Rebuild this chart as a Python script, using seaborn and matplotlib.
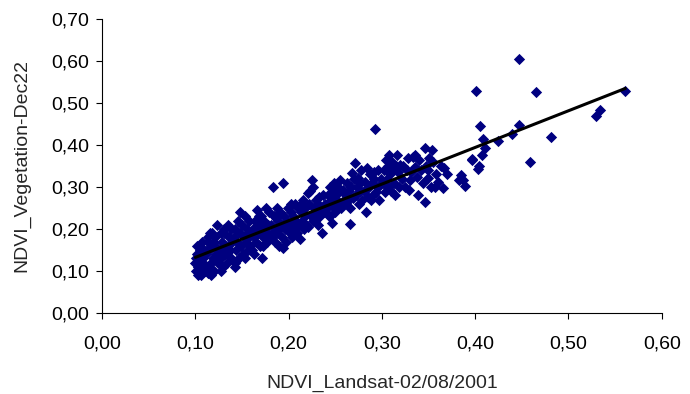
import numpy as np
import pandas as pd
import matplotlib
matplotlib.use("Agg")
import matplotlib.pyplot as plt
import seaborn as sns
from matplotlib.ticker import FuncFormatter

# --- values ---
landsat = [
    # 0.10 - 0.11
    0.100, 0.101, 0.102, 0.103, 0.104, 0.105, 0.106, 0.107, 0.108, 0.109,
    0.110, 0.101, 0.103, 0.105, 0.107, 0.109, 0.102, 0.104, 0.106, 0.108,
    # 0.11 - 0.125
    0.111, 0.112, 0.113, 0.114, 0.115, 0.116, 0.117, 0.118, 0.119, 0.120,
    0.121, 0.122, 0.123, 0.124, 0.112, 0.115, 0.118, 0.121, 0.124, 0.113,
    0.117, 0.120,
    # 0.125 - 0.14
    0.126, 0.127, 0.128, 0.129, 0.130, 0.131, 0.132, 0.133, 0.134, 0.135,
    0.136, 0.137, 0.138, 0.139, 0.128, 0.131, 0.135, 0.138,
    # 0.14 - 0.16
    0.141, 0.142, 0.143, 0.144, 0.145, 0.146, 0.147, 0.148, 0.149, 0.150,
    0.151, 0.152, 0.153, 0.154, 0.155, 0.156, 0.157, 0.158, 0.159, 0.143,
    0.148, 0.153, 0.158,
    # 0.16 - 0.18
    0.161, 0.162, 0.163, 0.164, 0.165, 0.166, 0.167, 0.168, 0.169, 0.170,
    0.171, 0.172, 0.173, 0.174, 0.175, 0.176, 0.177, 0.178, 0.179, 0.163,
    0.168, 0.173, 0.178,
    # 0.18 - 0.20
    0.181, 0.182, 0.183, 0.184, 0.185, 0.186, 0.187, 0.188, 0.189, 0.190,
    0.191, 0.192, 0.193, 0.194, 0.195, 0.196, 0.197, 0.198, 0.199, 0.183,
    0.194, 0.186, 0.192,
    # 0.20 - 0.22
    0.201, 0.202, 0.203, 0.204, 0.205, 0.206, 0.207, 0.208, 0.209, 0.210,
    0.211, 0.212, 0.213, 0.214, 0.215, 0.216, 0.217, 0.218, 0.219, 0.203,
    0.212,
    # 0.22 - 0.24
    0.221, 0.222, 0.223, 0.224, 0.225, 0.226, 0.227, 0.228, 0.229, 0.230,
    0.231, 0.232, 0.233, 0.234, 0.235, 0.236, 0.237, 0.238, 0.239, 0.221,
    0.226,
    # 0.24 - 0.26
    0.241, 0.242, 0.243, 0.244, 0.245, 0.246, 0.247, 0.248, 0.249, 0.250,
    0.251, 0.252, 0.253, 0.254, 0.255, 0.256, 0.257, 0.258, 0.259, 0.244,
    0.249,
    # 0.26 - 0.28
    0.261, 0.262, 0.263, 0.264, 0.265, 0.266, 0.267, 0.268, 0.269, 0.270,
    0.271, 0.272, 0.273, 0.274, 0.275, 0.276, 0.277, 0.278, 0.279, 0.266,
    # 0.28 - 0.30
    0.281, 0.282, 0.283, 0.284, 0.285, 0.286, 0.287, 0.288, 0.289, 0.290,
    0.291, 0.292, 0.293, 0.294, 0.295, 0.296, 0.297, 0.298, 0.299,
    # 0.30 - 0.32
    0.301, 0.302, 0.303, 0.304, 0.305, 0.306, 0.307, 0.308, 0.309, 0.310,
    0.311, 0.312, 0.313, 0.314, 0.315, 0.316, 0.317, 0.318, 0.319,
    # 0.32 - 0.34
    0.321, 0.323, 0.325, 0.327, 0.328, 0.329, 0.330, 0.331, 0.333, 0.335,
    0.336, 0.338, 0.339, 0.340,
    # 0.34 - 0.36
    0.342, 0.344, 0.346, 0.346, 0.347, 0.349, 0.349, 0.351, 0.353, 0.354,
    0.355, 0.357, 0.358, 0.360,
    # 0.36 - 0.40
    0.363, 0.365, 0.367, 0.370, 0.383, 0.385, 0.387, 0.389, 0.397, 0.397,
    # above 0.40
    0.401, 0.403, 0.404, 0.405, 0.407, 0.408, 0.410, 0.425, 0.439, 0.4475,
    0.4475, 0.459, 0.465, 0.481, 0.530, 0.534, 0.561,
]

vegetation = [
    0.12, 0.10, 0.14, 0.11, 0.16, 0.13, 0.09, 0.17, 0.12, 0.15,
    0.10, 0.13, 0.09, 0.15, 0.12, 0.11, 0.16, 0.14, 0.10, 0.13,
    0.14, 0.11, 0.17, 0.095, 0.15, 0.19, 0.12, 0.16, 0.13, 0.10,
    0.18, 0.14, 0.21, 0.12, 0.15, 0.11, 0.19, 0.16, 0.13, 0.18,
    0.09, 0.17,
    0.15, 0.19, 0.13, 0.17, 0.11, 0.20, 0.14, 0.16, 0.12, 0.21,
    0.18, 0.15, 0.13, 0.17, 0.10, 0.19, 0.145, 0.20,
    0.18, 0.11, 0.20, 0.15, 0.17, 0.22, 0.13, 0.19, 0.16, 0.21,
    0.14, 0.18, 0.23, 0.17, 0.20, 0.15, 0.19, 0.22, 0.16, 0.12,
    0.24, 0.13, 0.18,
    0.15, 0.20, 0.18, 0.22, 0.17, 0.245, 0.19, 0.21, 0.16, 0.23,
    0.13, 0.20, 0.18, 0.22, 0.19, 0.25, 0.17, 0.21, 0.24, 0.14,
    0.23, 0.16, 0.19,
    0.21, 0.18, 0.30, 0.23, 0.17, 0.20, 0.25, 0.19, 0.22, 0.16,
    0.24, 0.21, 0.18, 0.31, 0.23, 0.20, 0.17, 0.22, 0.25, 0.19,
    0.155, 0.225, 0.205,
    0.19, 0.24, 0.21, 0.18, 0.23, 0.20, 0.26, 0.22, 0.19, 0.25,
    0.21, 0.175, 0.24, 0.22, 0.27, 0.20, 0.23, 0.25, 0.21, 0.26,
    0.257,
    0.205, 0.26, 0.29, 0.23, 0.317, 0.30, 0.25, 0.22, 0.27, 0.24,
    0.21, 0.26, 0.276, 0.23, 0.25, 0.19, 0.28, 0.24, 0.26, 0.286,
    0.22,
    0.25, 0.28, 0.23, 0.30, 0.27, 0.214, 0.26, 0.29, 0.25, 0.24,
    0.28, 0.27, 0.30, 0.26, 0.317, 0.25, 0.29, 0.293, 0.27, 0.23,
    0.31,
    0.262, 0.28, 0.31, 0.27, 0.29, 0.212, 0.30, 0.333, 0.274, 0.32,
    0.357, 0.28, 0.30, 0.321, 0.26, 0.31, 0.29, 0.34, 0.27, 0.25,
    0.29, 0.312, 0.24, 0.345, 0.276, 0.30, 0.33, 0.27, 0.31, 0.28,
    0.32, 0.336, 0.438, 0.288, 0.30, 0.34, 0.27, 0.305, 0.32,
    0.31, 0.34, 0.288, 0.364, 0.32, 0.30, 0.35, 0.376, 0.33, 0.29,
    0.36, 0.34, 0.31, 0.281, 0.35, 0.376, 0.336, 0.30, 0.352,
    0.32, 0.35, 0.30, 0.34, 0.369, 0.293, 0.317, 0.336, 0.371, 0.348,
    0.376, 0.324, 0.28, 0.364,
    0.34, 0.31, 0.393, 0.264, 0.35, 0.34, 0.321, 0.37, 0.30, 0.388,
    0.36, 0.30, 0.33, 0.312,
    0.35, 0.298, 0.345, 0.33, 0.317, 0.329, 0.317, 0.302, 0.367, 0.364,
    0.529, 0.343, 0.35, 0.445, 0.376, 0.414, 0.393, 0.409, 0.426, 0.605,
    0.448, 0.36, 0.526, 0.419, 0.469, 0.483, 0.529,
]

X_LABEL = "NDVI_Landsat-02/08/2001"
Y_LABEL = "NDVI_Vegetation-Dec22"
X_TICKS = [0.0, 0.1, 0.2, 0.3, 0.4, 0.5, 0.6]
Y_TICKS = [0.0, 0.1, 0.2, 0.3, 0.4, 0.5, 0.6, 0.7]

df = pd.DataFrame({"landsat": landsat, "vegetation": vegetation})

# linear trendline over the data range (like Excel)
slope, intercept = np.polyfit(df["landsat"], df["vegetation"], 1)
trend = pd.DataFrame({"landsat": [df["landsat"].min(), df["landsat"].max()]})
trend["vegetation"] = slope * trend["landsat"] + intercept

sns.set_style("white")
plt.rcParams["font.family"] = ["Liberation Sans", "DejaVu Sans"]

fig = plt.figure(figsize=(6.9, 3.94), dpi=100)
ax = fig.add_axes([0.148, 0.2056, 0.811, 0.7462])

sns.scatterplot(data=df, x="landsat", y="vegetation", marker="D", s=33,
                color="#000080", linewidth=0, ax=ax, zorder=2)
sns.lineplot(data=trend, x="landsat", y="vegetation", color="black",
             linewidth=2.2, ax=ax, zorder=3)

ax.set_xlim(0, 0.6)
ax.set_ylim(0, 0.7)
ax.set_xticks(X_TICKS)
ax.set_yticks(Y_TICKS)
comma = FuncFormatter(lambda v, p: f"{v:.2f}".replace(".", ","))
ax.xaxis.set_major_formatter(comma)
ax.yaxis.set_major_formatter(comma)

for side in ["top", "right"]:
    ax.spines[side].set_visible(False)
for side in ["left", "bottom"]:
    ax.spines[side].set_color("black")
    ax.spines[side].set_linewidth(0.8)

ax.tick_params(axis="both", direction="out", length=4, width=0.8,
               color="black", labelsize=14, labelcolor="black",
               left=True, bottom=True)
ax.tick_params(axis="x", pad=12)
ax.tick_params(axis="y", pad=5)
ax.set_xlabel(X_LABEL, fontsize=14, labelpad=16)
ax.set_ylabel(Y_LABEL, fontsize=14, labelpad=15)

fig.savefig("out.png", dpi=100)
